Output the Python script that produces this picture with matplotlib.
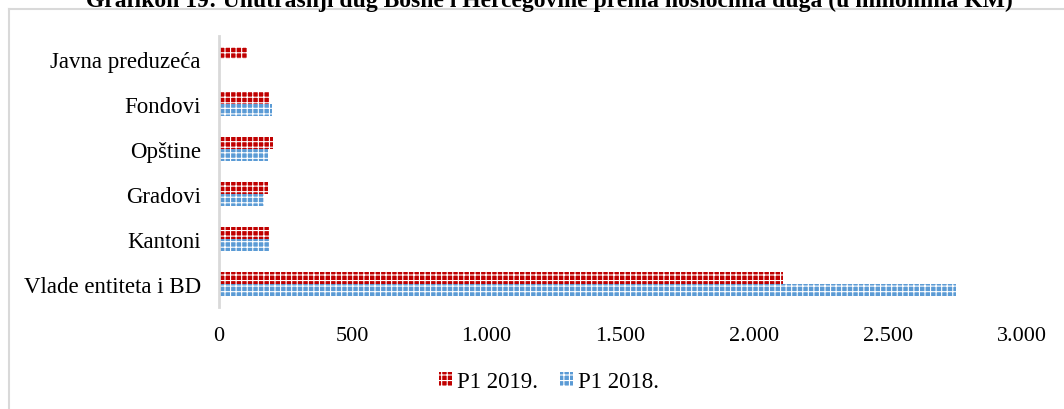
import matplotlib
matplotlib.use("Agg")
import matplotlib.pyplot as plt
from matplotlib.lines import Line2D
from matplotlib.patches import Patch
import numpy as np

categories = ["Vlade entiteta i BD", "Kantoni", "Gradovi", "Opštine", "Fondovi", "Javna preduzeća"]
p1_2019 = [2107, 190, 183, 200, 187, 105]
p1_2018 = [2753, 187, 168, 183, 198, 0]
xticks = [0, 500, 1000, 1500, 2000, 2500, 3000]
xtick_labels = ["0", "500", "1.000", "1.500", "2.000", "2.500", "3.000"]
series_names = ["P1 2019.", "P1 2018."]
title = "Grafikon 19: Unutrašnji dug Bosne i Hercegovine prema nosiocima duga (u milionima KM)"

RED = "#C00000"
BLUE = "#5B9BD5"
GRID = "#D9D9D9"
FONT = ["Liberation Serif", "DejaVu Serif"]

plt.rcParams["font.family"] = FONT
plt.rcParams["hatch.linewidth"] = 0.8
plt.rcParams["hatch.color"] = "white"

W, H = 1064, 410
fig = plt.figure(figsize=(W / 100, H / 100), dpi=100)

ax = fig.add_axes([219 / W, 1 - 308 / H, (1022 - 219) / W, (308 - 37) / H])

y = np.arange(len(categories))
h = 0.265
HATCH = "+++"
ax.barh(y + h / 2, p1_2019, height=h, color=RED, edgecolor="white", hatch=HATCH, linewidth=0)
ax.barh(y - h / 2, p1_2018, height=h, color=BLUE, edgecolor="white", hatch=HATCH, linewidth=0)

ax.set_ylim(-0.5, len(categories) - 0.5)
ax.set_xlim(0, 3000)
ax.set_yticks(y)
ax.set_yticklabels(categories, fontsize=16.5)
ax.set_xticks(xticks)
ax.set_xticklabels(xtick_labels, fontsize=16)
ax.tick_params(axis="both", length=0, colors="#000000")
ax.tick_params(axis="y", pad=13)
ax.tick_params(axis="x", pad=14)
for s in ["top", "right", "bottom"]:
    ax.spines[s].set_visible(False)
ax.spines["left"].set_color(GRID)
ax.spines["left"].set_linewidth(2)

handles = [Patch(facecolor=RED, edgecolor="white", hatch=HATCH, linewidth=0),
           Patch(facecolor=BLUE, edgecolor="white", hatch=HATCH, linewidth=0)]
fig.legend(handles, series_names, loc="center", bbox_to_anchor=(549 / W, 1 - 383 / H),
           ncol=2, frameon=False, fontsize=16.5, handlelength=0.55, handleheight=0.55,
           handletextpad=0.2, columnspacing=1.0)

# outer chart frame (partially cropped)
fig.add_artist(Line2D([8.5 / W, 1.0], [1 - 10 / H, 1 - 10 / H], transform=fig.transFigure,
                      color=GRID, linewidth=1.5))
fig.add_artist(Line2D([8.5 / W, 8.5 / W], [0, 1 - 10 / H], transform=fig.transFigure,
                      color=GRID, linewidth=1.5))

fig.text(549 / W, 1 - 7 / H, title, ha="center", va="baseline", fontsize=17,
         fontweight="bold", family=FONT)

fig.savefig("out.png", dpi=100)
